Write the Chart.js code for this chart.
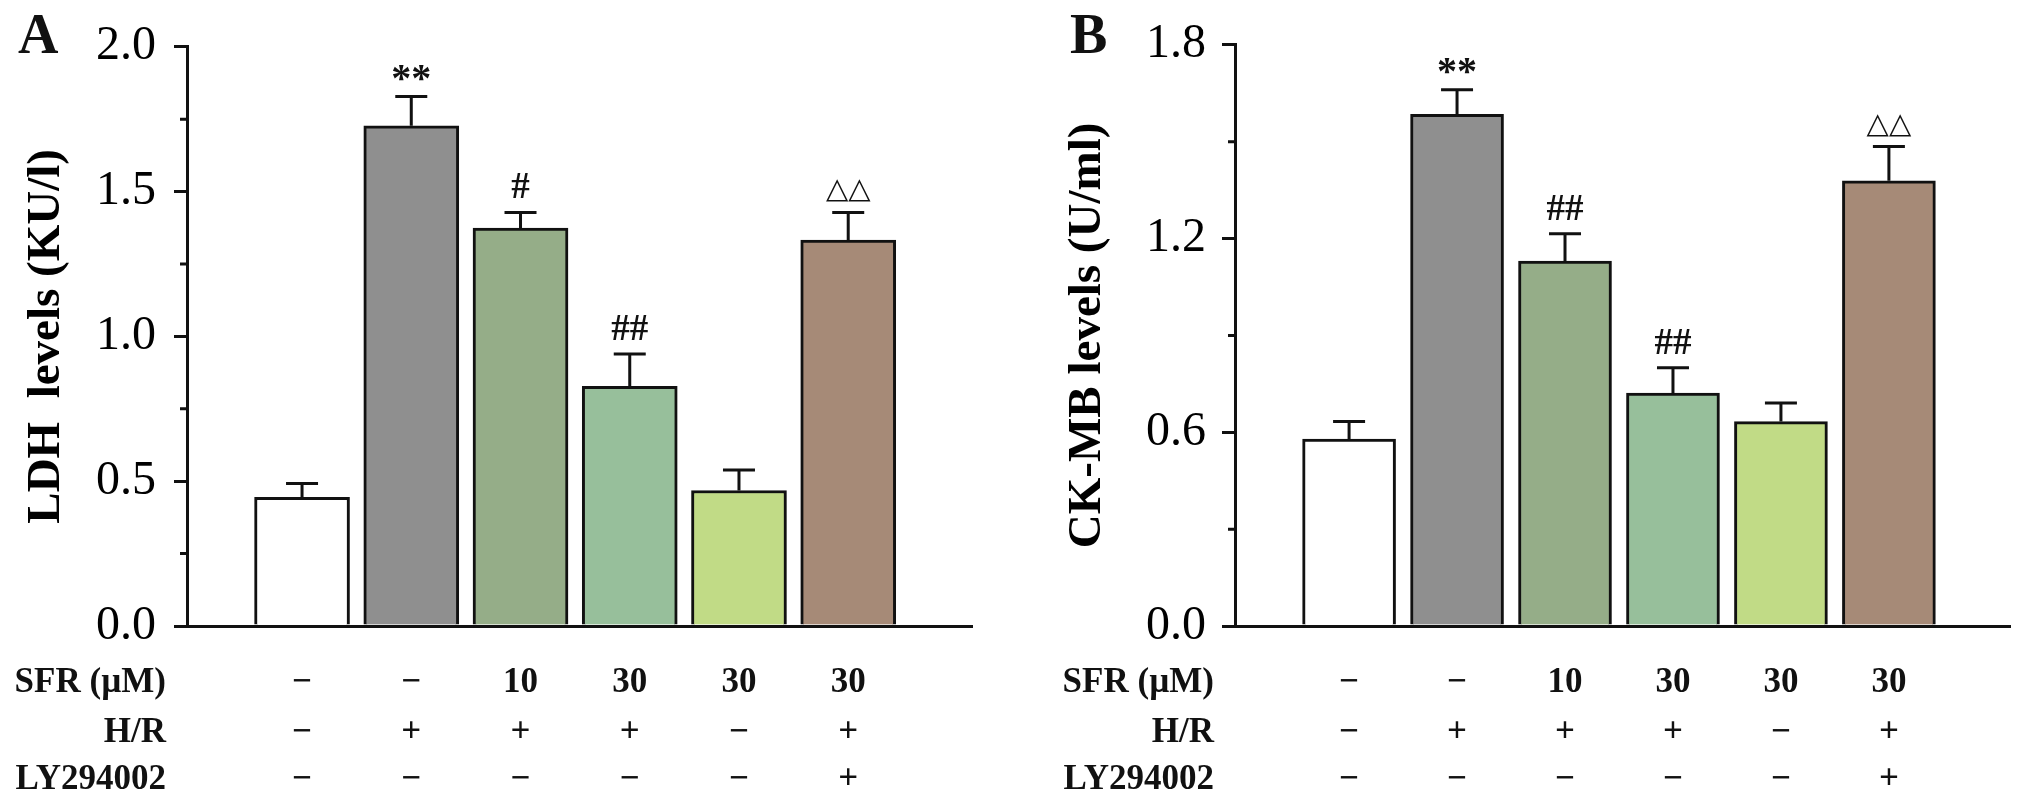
<!DOCTYPE html>
<html>
<head>
<meta charset="utf-8">
<script src="https://cdn.jsdelivr.net/npm/chart.js@4.4.1/dist/chart.umd.min.js"></script>
<style>
  body { margin: 0; background: #fff; }
  canvas { position: absolute; top: 0; }
  #chartA { left: 0; }
  #chartB { left: 1000px; }
</style>
</head>
<body>
<canvas id="chartA" width="1000" height="808"></canvas>
<canvas id="chartB" width="1031" height="808"></canvas>
<script>
// treatment table under the bars
var rowNames = ['SFR (\u00b5M)', 'H/R', 'LY294002'];
var sfr = ['\u2212', '\u2212', '10', '30', '30', '30'];
var hr  = ['\u2212', '+', '+', '+', '\u2212', '+'];
var ly  = ['\u2212', '\u2212', '\u2212', '\u2212', '\u2212', '+'];

var barColors = ['#ffffff', '#8f8f8f', '#95ad88', '#97bf9b', '#c1db86', '#a68a77'];

// panel A - LDH
var ldhMean  = [0.444, 1.727, 1.374, 0.828, 0.468, 1.333];
var ldhErr   = [0.048, 0.101, 0.054, 0.111, 0.071, 0.095];
var ldhMarks = ['', '**', '#', '##', '', '\u25b3\u25b3'];
var ldhTicks = { min: 0, max: 2.0, step: 0.5 };

// panel B - CK-MB
var ckMean  = [0.579, 1.585, 1.130, 0.721, 0.633, 1.379];
var ckErr   = [0.054, 0.076, 0.085, 0.079, 0.058, 0.106];
var ckMarks = ['', '**', '##', '##', '', '\u25b3\u25b3'];
var ckTicks = { min: 0, max: 1.8, step: 0.6 };

var serif = 'Liberation Serif';
var ink = '#111';

var extras = {
  id: 'extras',
  afterDatasetsDraw: function (chart, args, o) {
    var ctx = chart.ctx, xs = chart.scales.x, ys = chart.scales.y, area = chart.chartArea;
    var bars = chart.getDatasetMeta(0).data;
    ctx.save();
    ctx.strokeStyle = ink;
    ctx.fillStyle = ink;
    ctx.lineWidth = 3;

    // error bars + significance marks
    bars.forEach(function (bar, i) {
      var top = ys.getPixelForValue(o.mean[i] + o.err[i]);
      ctx.beginPath();
      ctx.moveTo(bar.x, bar.y);
      ctx.lineTo(bar.x, top);
      ctx.moveTo(bar.x - 16, top);
      ctx.lineTo(bar.x + 16, top);
      ctx.stroke();
      var m = o.marks[i];
      if (!m) return;
      ctx.textAlign = 'center';
      ctx.textBaseline = 'alphabetic';
      if (m.indexOf('\u25b3') >= 0) {
        ctx.font = '29px "DejaVu Sans"';
        ctx.fillText(m, bar.x, top - 14);
      } else if (m.indexOf('*') >= 0) {
        ctx.font = 'bold 40px "' + serif + '"';
        ctx.fillText(m, bar.x, top - 6);
      } else {
        ctx.font = 'bold 37px "' + serif + '"';
        ctx.fillText(m, bar.x, top - 14);
      }
    });

    // minor ticks halfway between the labelled ones
    var t = ys.ticks;
    ctx.beginPath();
    for (var k = 0; k < t.length - 1; k++) {
      var py = ys.getPixelForValue((t[k].value + t[k + 1].value) / 2);
      ctx.moveTo(area.left - 7, py);
      ctx.lineTo(area.left, py);
    }
    ctx.stroke();

    // table
    var rows = [sfr, hr, ly];
    var rowY = [57, 107, 154];
    ctx.font = 'bold 35px "' + serif + '"';
    ctx.textBaseline = 'middle';
    rows.forEach(function (row, r) {
      var yy = area.bottom + rowY[r];
      ctx.textAlign = 'right';
      ctx.fillText(rowNames[r], area.left - 21, yy);
      ctx.textAlign = 'center';
      row.forEach(function (txt, i) {
        ctx.fillText(txt, xs.getPixelForValue(i + 1), yy);
      });
    });

    // panel letter
    ctx.font = 'bold 56px "' + serif + '"';
    ctx.textAlign = 'left';
    ctx.textBaseline = 'alphabetic';
    ctx.fillText(o.letter, o.letterX, 53);
    ctx.restore();
  }
};

function makePanel(id, cfg) {
  return new Chart(document.getElementById(id), {
    type: 'bar',
    data: {
      datasets: [{
        data: cfg.mean.map(function (v, i) { return { x: i + 1, y: v }; }),
        backgroundColor: barColors,
        borderColor: ink,
        borderWidth: 3,
        barThickness: cfg.barWidth
      }]
    },
    options: {
      responsive: false,
      animation: false,
      layout: { padding: { top: 32, right: cfg.padRight, left: 0, bottom: 0 } },
      plugins: {
        legend: { display: false },
        tooltip: { enabled: false },
        extras: { mean: cfg.mean, err: cfg.err, marks: cfg.marks, letter: cfg.letter, letterX: cfg.letterX }
      },
      scales: {
        x: {
          type: 'linear',
          min: cfg.xMin,
          max: cfg.xMax,
          ticks: { display: false },
          grid: { display: false, drawTicks: false },
          border: { color: ink, width: 3 },
          afterFit: function (s) { s.height = 182; }
        },
        y: {
          min: cfg.ticks.min,
          max: cfg.ticks.max,
          ticks: {
            stepSize: cfg.ticks.step,
            padding: cfg.tickPad,
            color: '#000',
            font: { family: serif, size: 48 },
            callback: function (v) { return v.toFixed(1); }
          },
          grid: { drawOnChartArea: false, color: ink, lineWidth: 3, tickLength: 13 },
          border: { color: ink, width: 3 },
          title: {
            display: true,
            text: cfg.title,
            color: '#000',
            font: { family: serif, size: 47, weight: 'bold', lineHeight: 1 },
            padding: { top: cfg.titlePad, bottom: 0 }
          },
          afterFit: function (s) { s.width = cfg.axisLeft; }
        }
      }
    },
    plugins: [extras]
  });
}

makePanel('chartA', {
  mean: ldhMean, err: ldhErr, marks: ldhMarks, ticks: ldhTicks,
  title: 'LDH  levels (KU/l)', letter: 'A', letterX: 18,
  axisLeft: 187, padRight: 28, xMin: 0.396, xMax: 6.684,
  barWidth: 95, tickPad: 18, titlePad: 23
});

makePanel('chartB', {
  mean: ckMean, err: ckErr, marks: ckMarks, ticks: ckTicks,
  title: 'CK-MB levels (U/ml)', letter: 'B', letterX: 70,
  axisLeft: 235, padRight: 21, xMin: 0.392, xMax: 6.673,
  barWidth: 93, tickPad: 16, titlePad: 64
});
</script>
</body>
</html>
